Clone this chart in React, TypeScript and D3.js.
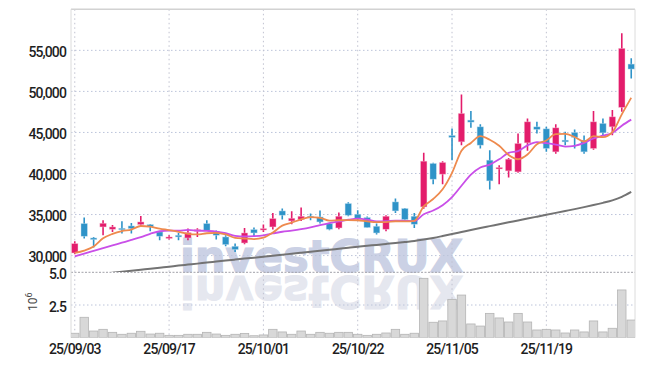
import React from 'react';
import * as d3 from 'd3';

const dates = [
  "25/09/03","25/09/04","25/09/05","25/09/08","25/09/09","25/09/10","25/09/11","25/09/12","25/09/15","25/09/16",
  "25/09/17","25/09/18","25/09/19","25/09/22","25/09/23","25/09/24","25/09/25","25/09/26","25/09/29","25/09/30",
  "25/10/01","25/10/02","25/10/10","25/10/13","25/10/14","25/10/15","25/10/16","25/10/17","25/10/20","25/10/21",
  "25/10/22","25/10/23","25/10/24","25/10/27","25/10/28","25/10/29","25/10/30","25/10/31","25/11/03","25/11/04",
  "25/11/05","25/11/06","25/11/07","25/11/10","25/11/11","25/11/12","25/11/13","25/11/14","25/11/17","25/11/18",
  "25/11/19","25/11/20","25/11/21","25/11/24","25/11/25","25/11/26","25/11/27","25/11/28","25/12/01","25/12/02"
];

const opens = [
  30317,33902,32146,33488,33207,33329,33610,33780,33780,32878,
  32110,32476,32146,32963,33902,32963,32268,31134,31537,33170,
  33170,33488,35439,34220,34390,34793,34707,33902,33366,36341,
  35037,34634,33573,33207,36537,35732,34793,35927,41220,39915,
  44634,43854,46500,45683,41622,40561,40317,40195,43732,45683,
  45439,42634,44061,45000,44061,43049,46098,45683,48049,53329
];
const highs = [
  31744,34634,32268,34305,33732,34183,33976,34829,33850,32950,
  32476,32756,33293,33329,34305,33050,32476,31463,33366,33415,
  33780,35195,35732,35402,35854,35122,35500,34000,35244,36500,
  35524,34750,33902,34915,36951,35800,35200,42512,41293,41500,
  45488,49634,47598,46012,42841,41012,41900,44878,46707,46293,
  45700,46000,45073,45366,44634,47598,46707,47720,57073,54024
];
const lows = [
  30160,32073,30976,32476,32878,32683,32683,33488,32963,31866,
  31951,31866,31866,32268,33000,31951,31134,30439,31378,32354,
  32878,33170,34390,33817,34220,34305,33900,33085,33200,34800,
  34305,33415,32561,32963,35200,34300,33366,35700,38695,38695,
  41622,43451,45561,43049,38049,38695,39512,40100,42756,44878,
  42634,42400,43451,43049,42415,42900,44671,44671,47512,51585
];
const closes = [
  31463,32354,31951,33939,33488,33207,33293,34098,33488,32354,
  32268,32268,32805,33170,33085,32476,31341,30732,32756,32756,
  33293,34512,34915,34549,34793,34634,34098,33207,34793,34915,
  34512,33415,32756,34793,35439,34390,33817,41500,39305,41341,
  44390,47317,46256,43451,39098,40732,41744,43658,46293,45366,
  43049,45561,43854,44390,42634,46293,44951,46902,55244,52720
];
// volume in millions
const volumes = [
  0.34,1.56,0.51,0.64,0.41,0.26,0.34,0.49,0.28,0.34,
  0.18,0.18,0.26,0.26,0.41,0.28,0.18,0.26,0.33,0.15,
  0.21,0.64,0.44,0.26,0.51,0.26,0.41,0.34,0.41,0.41,
  0.26,0.18,0.26,0.36,0.64,0.26,0.34,4.54,1.18,1.28,
  2.93,3.26,1.05,0.89,1.86,1.51,1.20,1.86,1.20,0.59,
  0.64,0.59,0.36,0.59,0.44,1.28,0.44,0.72,3.65,1.35
];
const ma5 = [
  30317,30600,31100,32100,32639,32988,33176,33605,33515,33288,
  33100,32895,32637,32573,32719,32761,32575,32161,32078,32012,
  32176,32810,33646,34005,34412,34681,34598,34256,34305,34329,
  34305,34168,34078,34078,34183,34159,34239,35988,36890,38071,
  40071,42771,43722,44551,44102,43371,42256,41737,42305,43559,
  44022,44785,44825,44444,43898,44546,44424,45034,47205,49222
];
const ma10 = [
  29915,30250,30580,30910,31240,31570,31900,32250,32650,32964,
  33044,33035,33121,33044,33004,32931,32735,32399,32326,32366,
  32468,32693,32904,33042,33212,33428,33704,33951,34155,34371,
  34493,34383,34167,34192,34256,34232,34204,35033,35484,36127,
  37115,38505,39855,40721,41087,41721,42513,42729,43428,43831,
  43696,43521,43281,43375,43728,44284,44605,44929,45824,46560
];
const ma60 = [
  27400,27530,27650,27780,27900,28030,28150,28280,28400,28530,
  28650,28780,28900,29020,29150,29270,29390,29510,29630,29750,
  29870,29990,30110,30230,30350,30470,30590,30710,30830,30950,
  31070,31190,31300,31420,31540,31660,31780,31950,32150,32380,
  32620,32870,33120,33360,33590,33820,34050,34280,34510,34740,
  34970,35200,35430,35660,35900,36150,36420,36720,37150,37750
];

const tickDates = ["25/09/03","25/09/17","25/10/01","25/10/22","25/11/05","25/11/19"];
const priceTicks = [30000, 35000, 40000, 45000, 50000, 55000];
const volTicks = [2.5, 5.0];

const W = 645, H = 366;
const L = 71, R = 635;
const PT = 9.3, PB = 272;
const VT = 272.3, VB = 337.7;

const UP = "#e31c6b";
const DOWN = "#2e93c8";

export default function App() {
  const x = d3.scalePoint<string>().domain(dates).range([L, R]).padding(0.4);
  const step = x.step();
  const y = d3.scaleLinear().domain([28000, 60000]).range([PB, PT]);
  const yv = d3.scaleLinear().domain([0, 5]).range([VB, VT]);

  const lineGen = (arr: number[]) =>
    d3.line<number>()
      .x((_, i) => x(dates[i]) as number)
      .y((d) => y(d))
      .curve(d3.curveMonotoneX)(arr) || "";

  const fmt = d3.format(",");
  const labelStyle: React.CSSProperties = {
    fontFamily: "Roboto, 'Noto Sans', sans-serif",
    fontSize: 14,
    fontWeight: 500,
    letterSpacing: -0.9,
  };
  const bodyW = 6.4;

  return (
    <svg width={W} height={H} style={{ position: "absolute", left: 0, top: 0, background: "#fff" }}>
      <defs>
        <clipPath id="priceClip">
          <rect x={L} y={PT} width={R - L} height={PB - PT} />
        </clipPath>
        <clipPath id="volClip">
          <rect x={L} y={VT} width={R - L} height={VB - VT} />
        </clipPath>
      </defs>

      {/* watermark with reflection */}
      <g style={{ fontFamily: "'DejaVu Sans', Verdana, sans-serif", fontWeight: 700 }}>
        <text x={180} y={271.5} fontSize={44} textLength={283} lengthAdjust="spacingAndGlyphs"
          fill="#c3cae1" stroke="#c3cae1" strokeWidth={1.2} opacity={0.85}>investCRUX</text>
        <g transform="translate(0,548) scale(1,-1)">
          <text x={180} y={272} fontSize={44} textLength={283} lengthAdjust="spacingAndGlyphs"
            fill="#dfe2ec" stroke="#dfe2ec" strokeWidth={1.2} opacity={0.8}>investCRUX</text>
        </g>
      </g>

      {/* grid */}
      {priceTicks.map((t) => (
        <line key={"hg" + t} x1={L} x2={R} y1={y(t)} y2={y(t)} stroke="#bcc4da" strokeWidth={1} strokeDasharray="1.5,2.5" />
      ))}
      {volTicks.map((t) => (
        <line key={"vg" + t} x1={L} x2={R} y1={yv(t)} y2={yv(t)} stroke={t === 5 ? "#a0a0a8" : "#bcc4da"} strokeWidth={1} strokeDasharray={t === 5 ? "2,1.5" : "1.5,2.5"} />
      ))}
      {tickDates.map((d) => (
        <line key={"xg" + d} x1={x(d)} x2={x(d)} y1={PT} y2={VB} stroke="#c0c2d0" strokeWidth={1} strokeDasharray="1.5,3" />
      ))}

      {/* borders */}
      <line x1={L} x2={R} y1={PT} y2={PT} stroke="#d2d2d2" strokeWidth={1.5} />
      <line x1={L} x2={L} y1={PT} y2={VB} stroke="#dcdcdc" strokeWidth={1} />
      <line x1={R} x2={R} y1={PT} y2={VB} stroke="#dcdcdc" strokeWidth={1} />

      {/* volume */}
      <g clipPath="url(#volClip)">
        {volumes.map((v, i) => (
          <rect key={"v" + i} x={(x(dates[i]) as number) - step / 2 + 0.5} y={yv(v)} width={step - 1} height={VB - yv(v)}
            fill="#d8d8d8" stroke="#b4b4b4" strokeWidth={0.8} />
        ))}
      </g>

      {/* price */}
      <g clipPath="url(#priceClip)">
        <path d={lineGen(ma60)} fill="none" stroke="#737373" strokeWidth={2} />
        {dates.map((d, i) => {
          const cx = x(d) as number;
          const up = closes[i] >= opens[i];
          const col = up ? UP : DOWN;
          const top = y(Math.max(opens[i], closes[i]));
          const bot = y(Math.min(opens[i], closes[i]));
          return (
            <g key={"c" + i}>
              <line x1={cx} x2={cx} y1={y(highs[i])} y2={y(lows[i])} stroke={col} strokeWidth={1.6} />
              <rect x={cx - bodyW / 2} y={top} width={bodyW} height={Math.max(1.5, bot - top)} fill={col}
                stroke={up ? "#f6c3d6" : "#c3e0ef"} strokeWidth={0.6} strokeOpacity={0.7} />
            </g>
          );
        })}
        <path d={lineGen(ma10)} fill="none" stroke="#c94fe8" strokeWidth={1.8} />
        <path d={lineGen(ma5)} fill="none" stroke="#ee8a4e" strokeWidth={1.8} />
      </g>

      {/* y labels */}
      {priceTicks.map((t) => (
        <text key={"pl" + t} x={66} y={y(t) + 6.5} textAnchor="end" fill="#1e1e1e" style={labelStyle}>{fmt(t)}</text>
      ))}
      {volTicks.map((t) => (
        <text key={"vl" + t} x={66} y={yv(t) + 6.5} textAnchor="end" fill="#1e1e1e" style={labelStyle}>{t.toFixed(1)}</text>
      ))}
      <text transform="translate(37,311) rotate(-90)" fill="#444"
        style={{ fontFamily: "Roboto, 'Noto Sans', sans-serif", fontSize: 12 }}>
        10<tspan dy={-5} fontSize={9}>6</tspan>
      </text>

      {/* x labels */}
      {tickDates.map((d) => (
        <text key={"xl" + d} x={x(d)} y={353.5} textAnchor="middle" fill="#1e1e1e" style={labelStyle}>{d}</text>
      ))}
    </svg>
  );
}
